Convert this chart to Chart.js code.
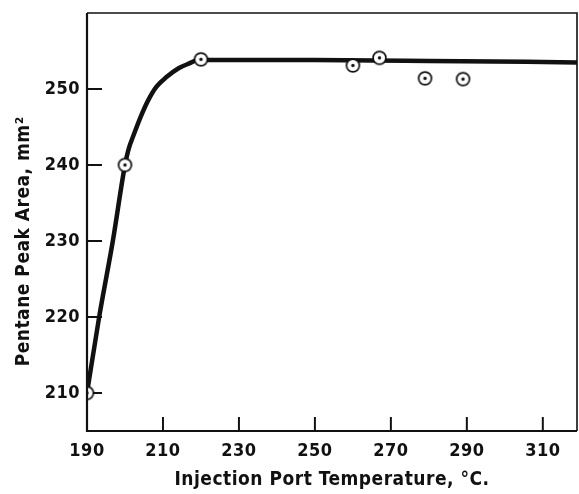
<!DOCTYPE html>
<html>
<head>
<meta charset="utf-8">
<script src="https://cdn.jsdelivr.net/npm/chart.js@4/dist/chart.umd.min.js"></script>
<style>
  html, body { margin: 0; padding: 0; background: #fff; }
  #wrap { width: 579px; height: 494px; }
</style>
</head>
<body>
<div id="wrap"><canvas id="chart" width="579" height="494"></canvas></div>
<script>
// measured points (circles)
const pointTemps = [190, 200, 220, 260, 267, 279, 289];
const pointAreas = [210, 240, 253.9, 253.1, 254.1, 251.4, 251.3];

// hand-drawn curve
const curveTemps = [190, 193.2, 196.8, 200, 200.9, 202.4, 204.1, 206.1, 208.3, 211, 214, 216.6, 219.5, 250, 280, 319];
const curveAreas = [210, 220, 230, 240, 242, 244.1, 246.3, 248.5, 250.3, 251.6, 252.7, 253.3, 253.8, 253.8, 253.7, 253.5];

// axes
const xTicks = [190, 210, 230, 250, 270, 290, 310];
const yTicks = [210, 220, 230, 240, 250];
const xLabel = 'Injection Port Temperature, °C.';
const yLabel = 'Pentane Peak Area, mm²      ';

const FONT = "'Liberation Sans Narrow', 'DejaVu Sans Condensed', sans-serif";

// circle with a dot in the middle
function makeMarker() {
    const c = document.createElement('canvas');
    c.width = 17;
    c.height = 17;
    const g = c.getContext('2d');
    g.beginPath();
    g.arc(8.5, 8.5, 6.4, 0, Math.PI * 2);
    g.fillStyle = '#fff';
    g.fill();
    g.lineWidth = 1.7;
    g.strokeStyle = '#111';
    g.stroke();
    g.beginPath();
    g.arc(8.5, 8.5, 1.7, 0, Math.PI * 2);
    g.fillStyle = '#111';
    g.fill();
    return c;
}
const marker = makeMarker();

// inward ticks + frame
const framePlugin = {
    id: 'frame',
    beforeDraw(chart) {
        chart.ctx.letterSpacing = '0.5px';
    },
    afterDatasetsDraw(chart) {
        const c = chart.ctx;
        const a = chart.chartArea;
        c.save();
        c.strokeStyle = '#111';
        c.lineWidth = 1.6;
        c.beginPath();
        c.moveTo(a.left, a.top);
        c.lineTo(a.right, a.top);
        c.lineTo(a.right, a.bottom);
        c.stroke();
        c.lineWidth = 2.2;
        c.beginPath();
        c.moveTo(a.left, a.top);
        c.lineTo(a.left, a.bottom);
        c.lineTo(a.right, a.bottom);
        c.stroke();
        c.restore();
    },
    afterDraw(chart) {
        const c = chart.ctx;
        const a = chart.chartArea;
        const sx = chart.scales.x;
        const sy = chart.scales.y;
        c.save();
        // drawn underneath what is already there, so the markers hide them
        c.globalCompositeOperation = 'destination-over';
        c.strokeStyle = '#111';
        c.lineWidth = 2;
        for (const v of xTicks) {
            const px = sx.getPixelForValue(v);
            c.beginPath();
            c.moveTo(px, a.bottom);
            c.lineTo(px, a.bottom - 14);
            c.stroke();
        }
        for (const v of yTicks) {
            const py = sy.getPixelForValue(v);
            c.beginPath();
            c.moveTo(a.left, py);
            c.lineTo(a.left + 15, py);
            c.stroke();
        }
        c.restore();
    }
};

new Chart(document.getElementById('chart'), {
    type: 'scatter',
    data: {
        datasets: [
            {
                label: 'measured',
                data: pointTemps.map((t, i) => ({x: t, y: pointAreas[i]})),
                pointStyle: marker,
                pointRadius: 8,
                order: 0
            },
            {
                label: 'curve',
                data: curveTemps.map((t, i) => ({x: t, y: curveAreas[i]})),
                showLine: true,
                borderColor: '#111',
                borderWidth: 4.5,
                pointRadius: 0,
                cubicInterpolationMode: 'monotone',
                order: 1
            }
        ]
    },
    options: {
        responsive: false,
        animation: false,
        layout: { autoPadding: false, padding: { top: 13, right: 2, left: 0, bottom: 0 } },
        plugins: {
            legend: { display: false },
            tooltip: { enabled: false }
        },
        scales: {
            x: {
                type: 'linear',
                min: 190,
                max: 319,
                afterBuildTicks: s => { s.ticks = xTicks.map(v => ({value: v})); },
                afterFit: s => {
                    s.height = 63;
                    s.paddingLeft = 0;
                    s.paddingRight = 0;
                },
                grid: { display: false, drawTicks: false },
                border: { display: false },
                ticks: {
                    color: '#111',
                    padding: 10,
                    font: { family: FONT, size: 18, weight: 'bold' }
                },
                title: {
                    display: true,
                    text: xLabel,
                    color: '#111',
                    padding: { top: 0, bottom: 3 },
                    font: { family: FONT, size: 19, weight: 'bold' }
                }
            },
            y: {
                type: 'linear',
                min: 205,
                max: 260,
                afterBuildTicks: s => { s.ticks = yTicks.map(v => ({value: v})); },
                afterFit: s => {
                    s.width = 87;
                    s.paddingTop = 0;
                    s.paddingBottom = 0;
                },
                grid: { display: false, drawTicks: false },
                border: { display: false },
                ticks: {
                    color: '#111',
                    padding: 7,
                    font: { family: FONT, size: 18, weight: 'bold' }
                },
                title: {
                    display: true,
                    text: yLabel,
                    color: '#111',
                    padding: { top: 13, bottom: 0 },
                    font: { family: FONT, size: 19, weight: 'bold' }
                }
            }
        }
    },
    plugins: [framePlugin]
});
</script>
</body>
</html>
